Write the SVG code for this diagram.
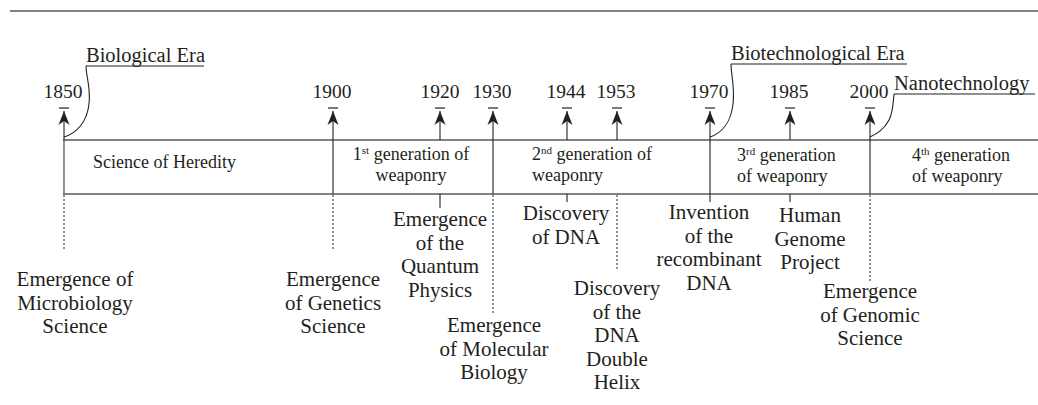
<svg xmlns="http://www.w3.org/2000/svg" width="1038" height="405" viewBox="0 0 1038 405" font-family="'Liberation Serif', 'DejaVu Serif', serif">
<style>
text{font-family:'Liberation Serif','DejaVu Serif',serif;fill:#231f20}
.yr{font-size:19.5px;text-anchor:middle}
.era{font-size:20.5px}
.band{font-size:18px}
.lab{font-size:21px;text-anchor:middle}
.rule{stroke:#58595b;stroke-width:1.3;fill:none}
.ar{stroke:#231f20;stroke-width:1.1;fill:none;marker-end:url(#ah)}
.sol{stroke:#231f20;stroke-width:1.1;fill:none}
.dash{stroke:#231f20;stroke-width:1;stroke-dasharray:2 2;fill:none}
.tick{stroke:#231f20;stroke-width:1.2}
.curve{stroke:#231f20;stroke-width:1.1;fill:none}
.ul{stroke:#231f20;stroke-width:1;fill:none}
</style>
<defs>
<marker id="ah" markerUnits="userSpaceOnUse" markerWidth="16" markerHeight="12" viewBox="0 0 16 12" refX="14" refY="6" orient="auto">
<path d="M14,6 L0,0.5 L4,6 L0,11.5 Z" fill="#231f20"/>
</marker>
<line id="tk" x1="-5" y1="108" x2="5" y2="108" class="tick"/>
</defs>
<path class="rule" d="M10,11 H1038"/>
<g id="band">
<path class="rule" d="M63,140 H1038 M63,194 H1038 M64,140 V194"/>
<text class="band" x="93" y="168">Science of Heredity</text>
<text class="band" text-anchor="middle"><tspan x="411" y="160">1<tspan dy="-6" font-size="11px">st</tspan><tspan dy="6"> generation of</tspan></tspan><tspan x="411" y="181">weaponry</tspan></text>
<text class="band"><tspan x="532" y="160">2<tspan dy="-6" font-size="11px">nd</tspan><tspan dy="6"> generation of</tspan></tspan><tspan x="532" y="181">weaponry</tspan></text>
<text class="band"><tspan x="737" y="161">3<tspan dy="-6" font-size="11px">rd</tspan><tspan dy="6"> generation</tspan></tspan><tspan x="737" y="182">of weaponry</tspan></text>
<text class="band"><tspan x="912" y="161">4<tspan dy="-6" font-size="11px">th</tspan><tspan dy="6"> generation</tspan></tspan><tspan x="912" y="182">of weaponry</tspan></text>
</g>
<g id="eras">
<g id="era-bio"><text class="era" x="86" y="62">Biological Era</text><path class="ul" d="M86,66 H204"/></g>
<g id="era-biotech"><text class="era" x="731" y="60">Biotechnological Era</text><path class="ul" d="M731,64 H907"/></g>
<g id="era-nano"><text class="era" x="894" y="90">Nanotechnology</text><path class="ul" d="M894,94 H1035"/></g>
</g>
<g id="connectors">
<path class="curve" d="M86,66 C86,76 91,88 89,104 C87,122 77,133 64,137"/>
<path class="curve" d="M731,64 C731,74 735,88 733,104 C731,122 722,133 710,137"/>
<path class="curve" d="M894,94 C893,104 893,113 889,120 C884,130 876,134 870,137"/>
<path class="ar" d="M64,140 V111"/>
<path class="ar" d="M333,194 V111"/>
<path class="ar" d="M440,140 V111"/>
<path class="ar" d="M493,194 V111"/>
<path class="ar" d="M567,140 V111"/>
<path class="ar" d="M617,140 V111"/>
<path class="ar" d="M710,202 V111"/>
<path class="ar" d="M790,140 V111"/>
<path class="ar" d="M870,194 V111"/>
<path class="dash" d="M64,195 V250"/>
<path class="dash" d="M333,195 V250"/>
<path class="sol" d="M440,194 V208"/>
<path class="dash" d="M493,195 V315"/>
<path class="sol" d="M567,194 V202"/>
<path class="dash" d="M617,195 V270"/>
<path class="sol" d="M790,194 V202"/>
<path class="dash" d="M870,195 V282"/>
</g>
<g id="e1850"><use href="#tk" x="64"/><text class="yr" x="63" y="98">1850</text>
<text class="lab"><tspan x="75" y="286">Emergence of</tspan><tspan x="75" y="309.5">Microbiology</tspan><tspan x="75" y="333">Science</tspan></text></g>
<g id="e1900"><use href="#tk" x="333"/><text class="yr" x="332" y="98">1900</text>
<text class="lab"><tspan x="333" y="286">Emergence</tspan><tspan x="333" y="309.5">of Genetics</tspan><tspan x="333" y="333">Science</tspan></text></g>
<g id="e1920"><use href="#tk" x="440"/><text class="yr" x="440" y="98">1920</text>
<text class="lab"><tspan x="440" y="226">Emergence</tspan><tspan x="440" y="249.5">of the</tspan><tspan x="440" y="273">Quantum</tspan><tspan x="440" y="296.5">Physics</tspan></text></g>
<g id="e1930"><use href="#tk" x="493"/><text class="yr" x="492" y="98">1930</text>
<text class="lab"><tspan x="494" y="332">Emergence</tspan><tspan x="494" y="355.5">of Molecular</tspan><tspan x="494" y="379">Biology</tspan></text></g>
<g id="e1944"><use href="#tk" x="567"/><text class="yr" x="566" y="98">1944</text>
<text class="lab"><tspan x="566" y="220">Discovery</tspan><tspan x="566" y="243.5">of DNA</tspan></text></g>
<g id="e1953"><use href="#tk" x="617"/><text class="yr" x="616" y="98">1953</text>
<text class="lab"><tspan x="617" y="295">Discovery</tspan><tspan x="617" y="318.5">of the</tspan><tspan x="617" y="342">DNA</tspan><tspan x="617" y="365.5">Double</tspan><tspan x="617" y="389">Helix</tspan></text></g>
<g id="e1970"><use href="#tk" x="710"/><text class="yr" x="709" y="98">1970</text>
<text class="lab"><tspan x="709" y="219">Invention</tspan><tspan x="709" y="242.5">of the</tspan><tspan x="709" y="266">recombinant</tspan><tspan x="709" y="289.5">DNA</tspan></text></g>
<g id="e1985"><use href="#tk" x="790"/><text class="yr" x="789" y="98">1985</text>
<text class="lab"><tspan x="810" y="222">Human</tspan><tspan x="810" y="245.5">Genome</tspan><tspan x="810" y="269">Project</tspan></text></g>
<g id="e2000"><use href="#tk" x="870"/><text class="yr" x="869" y="98">2000</text>
<text class="lab"><tspan x="870" y="298">Emergence</tspan><tspan x="870" y="321.5">of Genomic</tspan><tspan x="870" y="345">Science</tspan></text></g>
</svg>
